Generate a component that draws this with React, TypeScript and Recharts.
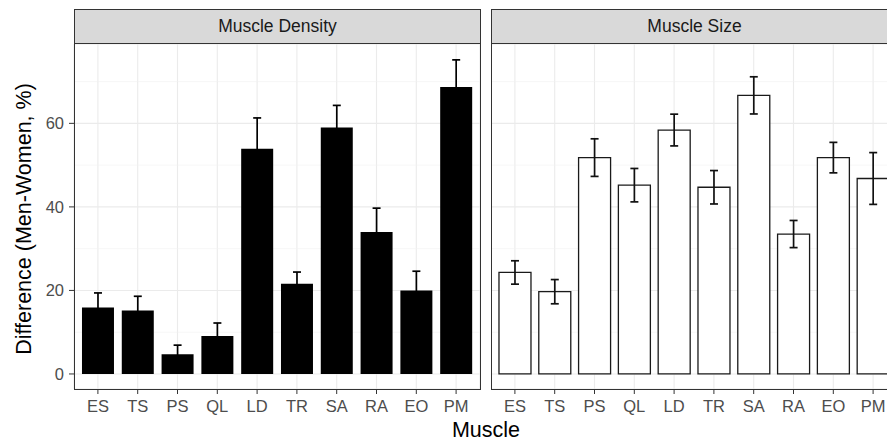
import { BarChart, Bar, XAxis, YAxis, CartesianGrid, ErrorBar } from 'recharts';

const muscles = ['ES', 'TS', 'PS', 'QL', 'LD', 'TR', 'SA', 'RA', 'EO', 'PM'];
const densityValues = [15.9, 15.2, 4.7, 9.1, 53.9, 21.6, 59.0, 34.0, 20.0, 68.7];
const densityErrors = [3.5, 3.4, 2.2, 3.1, 7.4, 2.8, 5.3, 5.7, 4.6, 6.5];
const sizeValues = [24.3, 19.7, 51.8, 45.2, 58.4, 44.7, 66.7, 33.5, 51.8, 46.8];
const sizeErrors = [2.8, 2.9, 4.5, 4.0, 3.8, 4.0, 4.45, 3.25, 3.65, 6.2];
const majorTicks = [0, 20, 40, 60];
const minorTicks = [10, 30, 50, 70];

const densityData = muscles.map((m, i) => ({ muscle: m, value: densityValues[i], err: densityErrors[i] }));
const sizeData = muscles.map((m, i) => ({ muscle: m, value: sizeValues[i], err: sizeErrors[i] }));

const font = '"Liberation Sans", Arial, sans-serif';
const domain: [number, number] = [-3.6, 79];
const tickStyle = { fill: '#4d4d4d', fontSize: 16.5, fontFamily: font };

const Panel = ({ data, fill, stroke, errColor, showY }: { data: any[]; fill: string; stroke: string; errColor: string; showY: boolean }) => (
  <BarChart
    width={showY ? 480 : 406}
    height={447}
    data={data}
    margin={{ top: 44, right: 0, bottom: 0, left: 0 }}
    barCategoryGap="10%"
  >
    <CartesianGrid stroke="#ebebeb" strokeWidth={1.1} />
    <CartesianGrid stroke="#f2f2f2" strokeWidth={0.6} vertical={false} horizontalValues={minorTicks} />
    <XAxis
      dataKey="muscle"
      height={58}
      padding={{ left: 4, right: 4 }}
      axisLine={false}
      tickSize={5}
      tickMargin={6}
      tickLine={{ stroke: '#333333' }}
      tick={tickStyle}
      interval={0}
    />
    <YAxis
      hide={!showY}
      width={74}
      domain={domain}
      ticks={majorTicks}
      axisLine={false}
      tickSize={5}
      tickMargin={5}
      tickLine={{ stroke: '#333333' }}
      tick={tickStyle}
    />
    <Bar dataKey="value" fill={fill} stroke={stroke} strokeWidth={stroke === 'none' ? 0 : 1.3} isAnimationActive={false}>
      <ErrorBar dataKey="err" width={4} stroke={errColor} strokeWidth={1.7} />
    </Bar>
  </BarChart>
);

const stripStyle = (left: number): React.CSSProperties => ({
  position: 'absolute',
  left,
  top: 9,
  width: 407,
  height: 35,
  boxSizing: 'border-box',
  background: '#d9d9d9',
  border: '1px solid #333333',
  display: 'flex',
  alignItems: 'center',
  justifyContent: 'center',
  fontSize: 17.5,
  color: '#1a1a1a',
});

const borderStyle = (left: number): React.CSSProperties => ({
  position: 'absolute',
  left,
  top: 43,
  width: 407,
  height: 347,
  boxSizing: 'border-box',
  border: '1px solid #333333',
  pointerEvents: 'none',
});

export default function App() {
  return (
    <div
      style={{
        position: 'absolute',
        left: 0,
        top: 0,
        width: 887,
        height: 447,
        overflow: 'hidden',
        background: '#ffffff',
        fontFamily: font,
      }}
    >
      <div style={{ position: 'absolute', left: 0, top: 0 }}>
        <Panel data={densityData} fill="#000000" stroke="none" errColor="#000000" showY />
      </div>
      <div style={{ position: 'absolute', left: 491, top: 0 }}>
        <Panel data={sizeData} fill="#ffffff" stroke="#1a1a1a" errColor="#111111" showY={false} />
      </div>
      <div style={borderStyle(74)} />
      <div style={borderStyle(491)} />
      <div style={stripStyle(74)}>Muscle Density</div>
      <div style={stripStyle(491)}>Muscle Size</div>
      <div
        style={{
          position: 'absolute',
          left: 486,
          top: 418,
          transform: 'translateX(-50%)',
          fontSize: 21.5,
          color: '#000000',
          whiteSpace: 'nowrap',
        }}
      >
        Muscle
      </div>
      <div
        style={{
          position: 'absolute',
          left: 24,
          top: 219,
          transform: 'translate(-50%, -50%) rotate(-90deg)',
          fontSize: 21.5,
          color: '#000000',
          whiteSpace: 'nowrap',
        }}
      >
        Difference (Men-Women, %)
      </div>
    </div>
  );
}
